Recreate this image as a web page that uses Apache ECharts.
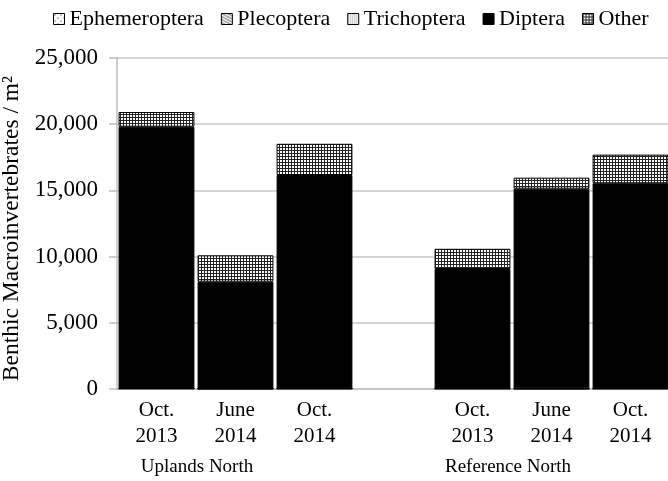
<!DOCTYPE html>
<html>
<head>
<meta charset="utf-8">
<script src="https://cdn.jsdelivr.net/npm/echarts@6/dist/echarts.min.js"></script>
<style>
  html, body { margin: 0; padding: 0; background: #fff; }
  #chart { width: 668px; height: 481px; }
</style>
</head>
<body>
<div id="chart"></div>
<script>
// categories (blank one is the gap between the two sites)
const categories = ['Oct.\n2013', 'June\n2014', 'Oct.\n2014', '', 'Oct.\n2013', 'June\n2014', 'Oct.\n2014'];
const groupLabels = ['Uplands North', 'Reference North'];

// densities per m2
const ephemeroptera = [40, 20, 30, null, 30, 20, 30];
const plecoptera = [10, 5, 10, null, 10, 10, 10];
const trichoptera = [30, 20, 20, null, 20, 20, 20];
const diptera = [19730, 8060, 16100, null, 9000, 15080, 15480];
const other = [1110, 1990, 2360, null, 1530, 830, 2160];

const FONT = 'Liberation Serif';

// small tiles used as fill patterns
function makeTile(size, draw) {
  const c = document.createElement('canvas');
  c.width = size;
  c.height = size;
  const ctx = c.getContext('2d');
  ctx.fillStyle = '#fff';
  ctx.fillRect(0, 0, size, size);
  ctx.fillStyle = '#000';
  draw(ctx);
  return { image: c, repeat: 'repeat' };
}

const patEphem = makeTile(6, (ctx) => {
  ctx.fillRect(1, 1, 1, 1);
  ctx.fillRect(4, 4, 1, 1);
});
const patPleco = makeTile(6, (ctx) => {
  ctx.fillStyle = '#555';
  ctx.fillRect(0, 0, 2, 1);
  ctx.fillRect(2, 1, 2, 1);
  ctx.fillRect(4, 2, 2, 1);
  ctx.fillRect(0, 3, 2, 1);
  ctx.fillRect(2, 4, 2, 1);
  ctx.fillRect(4, 5, 2, 1);
});
const patTrich = makeTile(2, (ctx) => {
  ctx.fillStyle = '#888';
  ctx.fillRect(0, 0, 1, 1);
});
const patOther = makeTile(3, (ctx) => {
  ctx.fillStyle = '#222';
  ctx.fillRect(0, 0, 3, 1);
  ctx.fillRect(0, 0, 1, 3);
});

function mkSeries(name, data, color) {
  return {
    name: name,
    type: 'bar',
    stack: 'total',
    data: data,
    barCategoryGap: '4%',
    itemStyle: {
      color: color,
      borderColor: '#000',
      borderWidth: 1
    }
  };
}

const chart = echarts.init(document.getElementById('chart'));

chart.setOption({
  animation: false,
  backgroundColor: '#fff',
  legend: {
    top: 3,
    left: 48,
    icon: 'rect',
    itemWidth: 11,
    itemHeight: 11,
    itemGap: 17,
    textStyle: { fontFamily: FONT, fontSize: 22, color: '#000' },
    itemStyle: { borderColor: '#000', borderWidth: 1 }
  },
  grid: {
    left: 117,
    right: -2,
    top: 58,
    bottom: 92,
    containLabel: false,
    outerBoundsMode: 'none'
  },
  xAxis: {
    type: 'category',
    data: categories,
    axisLine: { lineStyle: { color: '#bfbfbf', width: 1.5 } },
    axisTick: { show: false },
    axisLabel: {
      interval: 0,
      margin: 8,
      fontFamily: FONT,
      fontSize: 21,
      lineHeight: 26,
      color: '#000'
    }
  },
  yAxis: {
    type: 'value',
    min: 0,
    max: 25000,
    interval: 5000,
    name: 'Benthic Macroinvertebrates / m²',
    nameLocation: 'middle',
    nameGap: 85,
    nameTextStyle: { fontFamily: FONT, fontSize: 23.5, color: '#000', padding: [0, 10, 0, 0] },
    axisLine: { show: true, lineStyle: { color: '#bfbfbf', width: 1.5 } },
    axisTick: { show: true, length: 8, lineStyle: { color: '#bfbfbf', width: 1.5 } },
    splitLine: { lineStyle: { color: '#c8c8c8', width: 1.5 } },
    axisLabel: {
      margin: 19,
      fontFamily: FONT,
      fontSize: 23,
      color: '#000',
      formatter: (v) => v.toLocaleString('en-US')
    }
  },
  graphic: [
    {
      type: 'text',
      x: 197,
      y: 467,
      style: { text: groupLabels[0], font: '19px "Liberation Serif"', fill: '#000', align: 'center', verticalAlign: 'middle' }
    },
    {
      type: 'text',
      x: 508,
      y: 467,
      style: { text: groupLabels[1], font: '19px "Liberation Serif"', fill: '#000', align: 'center', verticalAlign: 'middle' }
    }
  ],
  series: [
    mkSeries('Ephemeroptera', ephemeroptera, patEphem),
    mkSeries('Plecoptera', plecoptera, patPleco),
    mkSeries('Trichoptera', trichoptera, patTrich),
    mkSeries('Diptera', diptera, '#000'),
    mkSeries('Other', other, patOther)
  ]
});
</script>
</body>
</html>
